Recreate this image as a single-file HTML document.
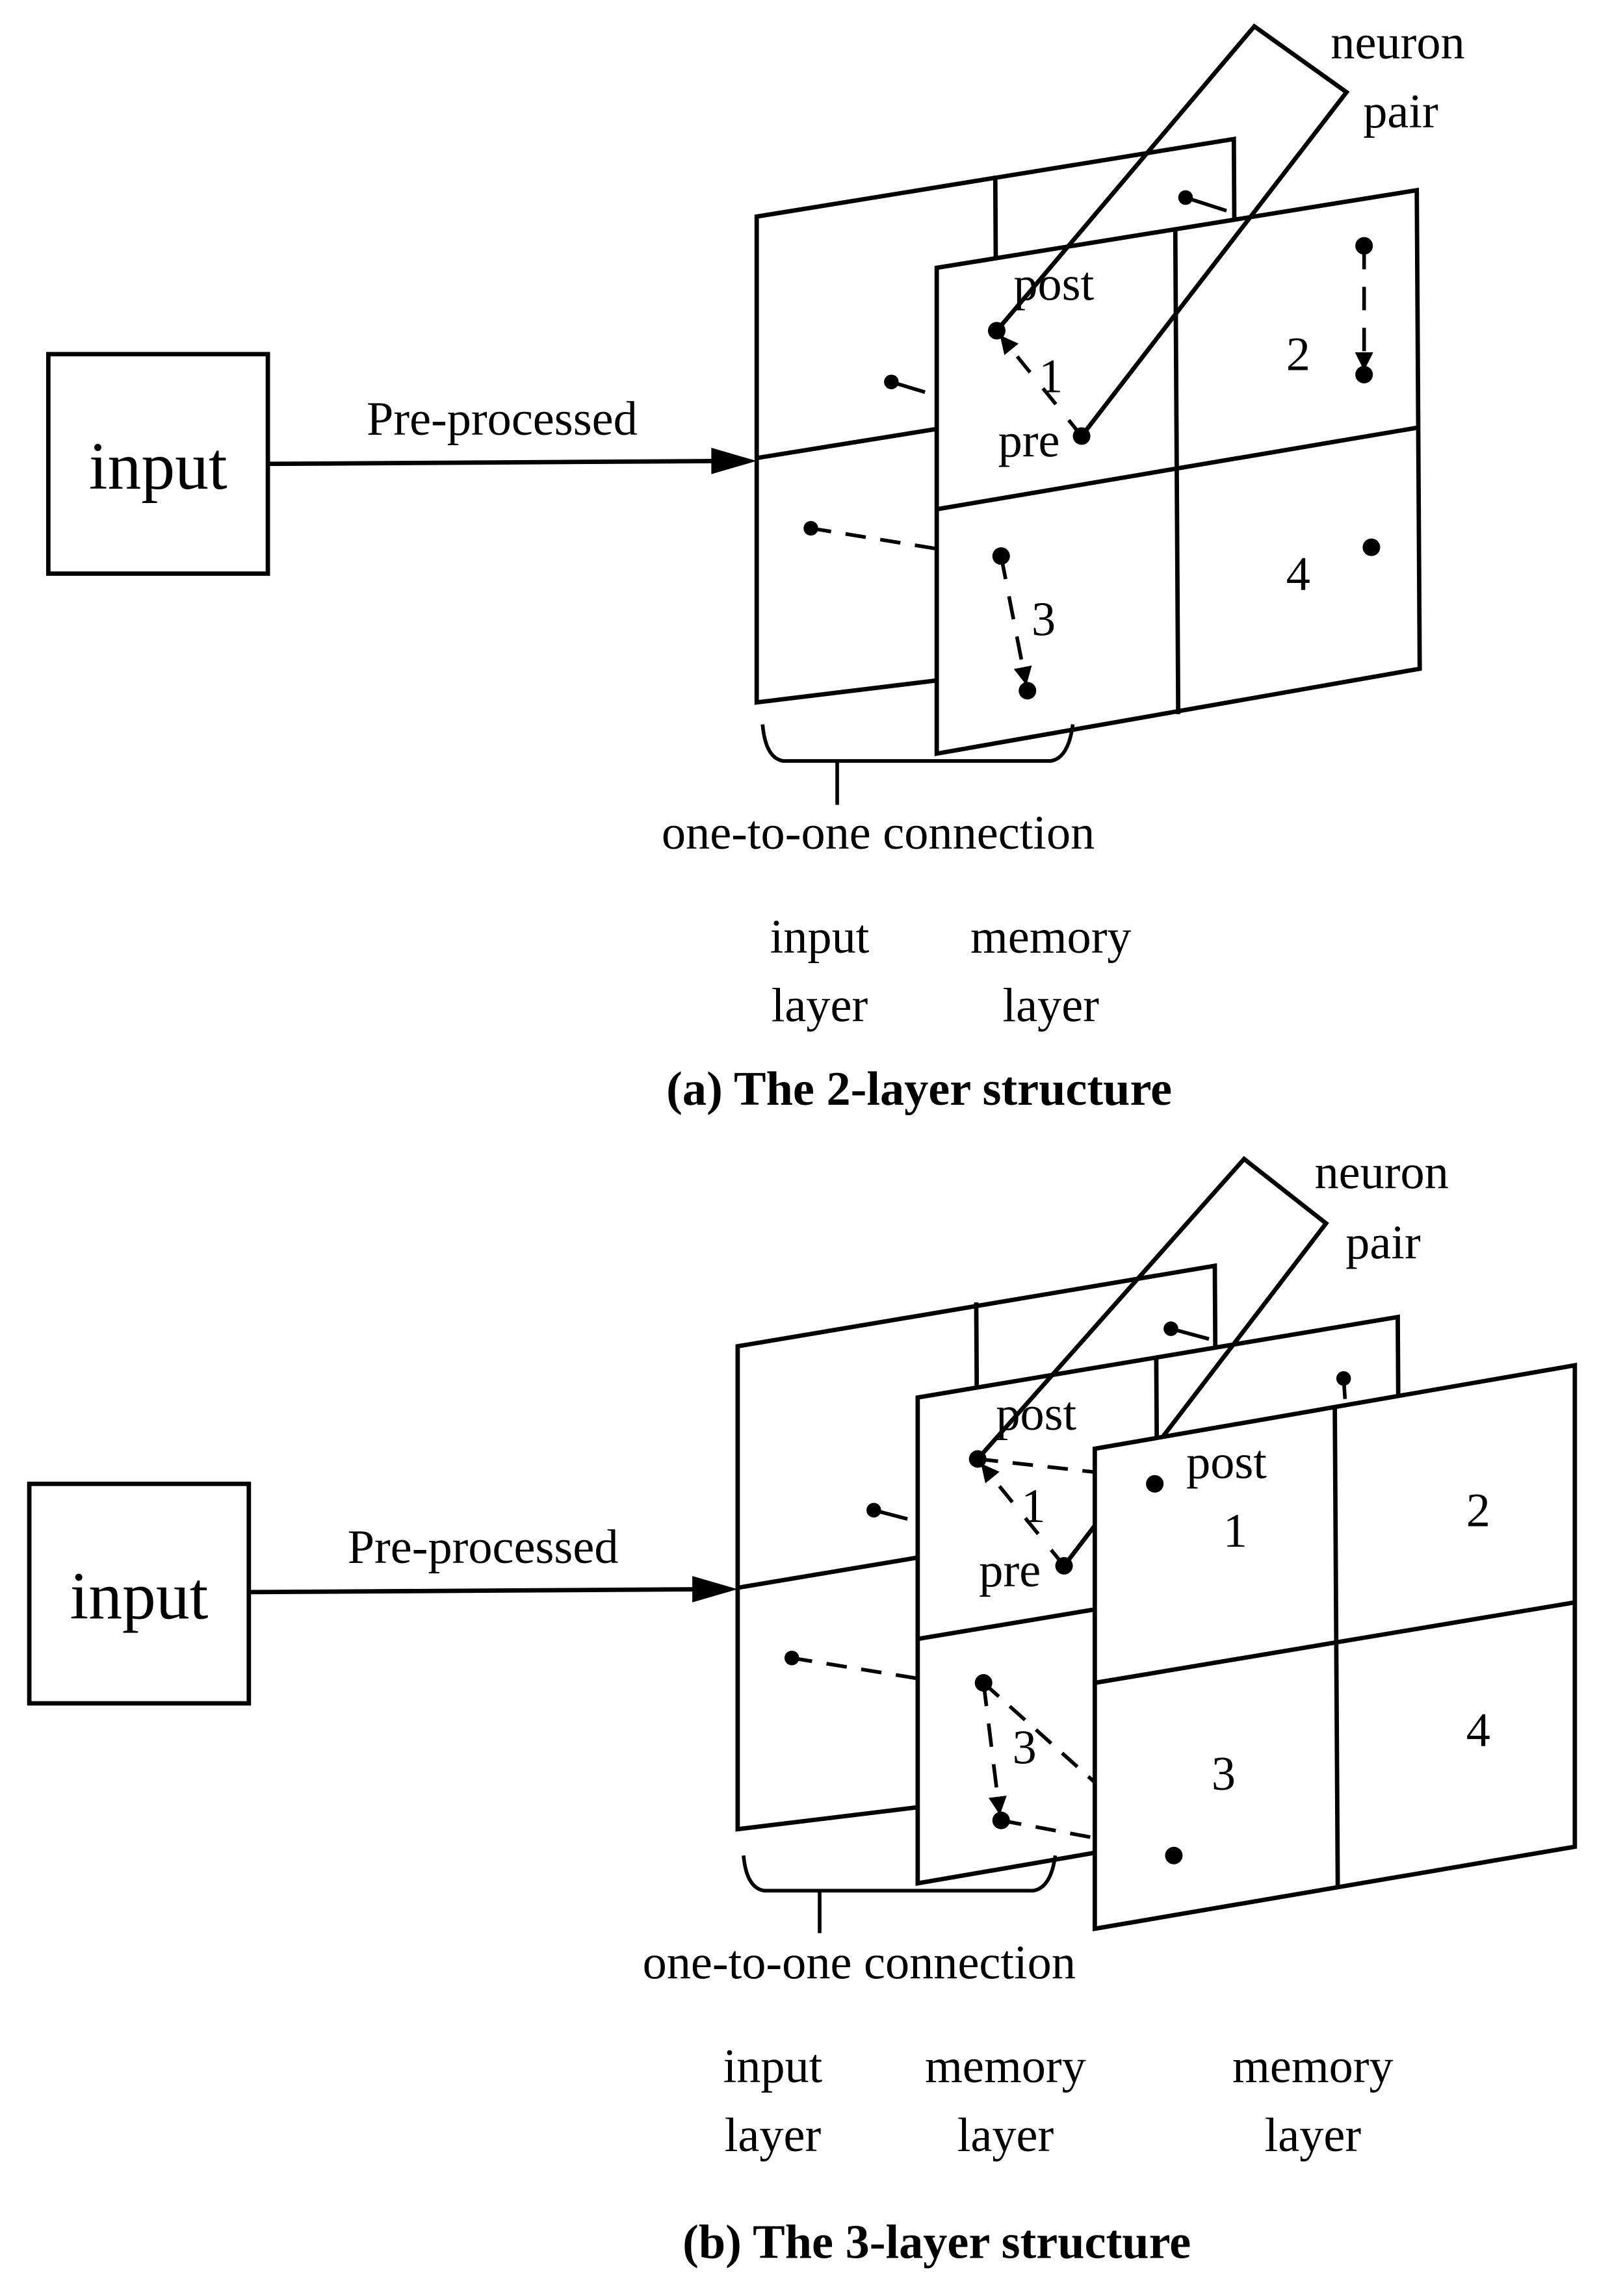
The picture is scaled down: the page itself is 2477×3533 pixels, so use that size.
<!DOCTYPE html>
<html><head><meta charset="utf-8"><style>
html,body{margin:0;padding:0;background:#fff;}
svg{display:block;}
text{font-family:"Liberation Serif",serif;fill:#000;}
</style></head><body>
<svg width="2477" height="3533" viewBox="0 0 1100 1569" xmlns="http://www.w3.org/2000/svg">
<defs>
<marker id="ah" viewBox="0 0 10 10" refX="9" refY="5" markerWidth="5" markerHeight="5" orient="auto"><path d="M0,0 L10,5 L0,10 z" fill="#000"/></marker>
<marker id="big" viewBox="0 0 10 10" refX="10" refY="5" markerWidth="8" markerHeight="6" orient="auto" markerUnits="userSpaceOnUse"><path d="M0,0 L10,5 L0,10 z" fill="#000"/></marker>
</defs>
<g stroke="#000" stroke-width="3" fill="none">

<!-- ===== (a) ===== -->
<rect x="33" y="242" width="150" height="150"/>
<line x1="183" y1="317" x2="500" y2="315"/>
<path d="M486,306 L517,315 L486,324 z" fill="#000" stroke="none"/>
<!-- input layer back -->
<polygon points="517,148 843,95 845,440 517,480" fill="#fff"/>
<line x1="517" y1="313" x2="845" y2="260"/>
<line x1="680" y1="120" x2="682" y2="455"/>
<circle cx="810" cy="135" r="5" fill="#000" stroke="none"/><line x1="810" y1="135" x2="838" y2="144" stroke-width="2.5"/>
<circle cx="609" cy="261" r="5" fill="#000" stroke="none"/><line x1="609" y1="261" x2="632" y2="268" stroke-width="2.5"/>
<circle cx="554" cy="361" r="5" fill="#000" stroke="none"/><line x1="554" y1="361" x2="640" y2="375" stroke-width="2.5" stroke-dasharray="14,10"/>
<!-- memory layer front -->
<polygon points="640,183 968,130 970,457 640,515" fill="#fff"/>
<line x1="640" y1="348" x2="970" y2="292"/>
<line x1="803" y1="157" x2="805" y2="488"/>
<!-- neuron pair loop -->
<polyline points="681,226 857,18 920,63 739,298"/>
<circle cx="681" cy="226" r="6" fill="#000" stroke="none"/>
<circle cx="739" cy="298" r="6" fill="#000" stroke="none"/>
<line x1="739" y1="298" x2="684" y2="230" stroke-width="2.5" stroke-dasharray="14,14" marker-end="url(#ah)"/>
<circle cx="932" cy="168" r="6" fill="#000" stroke="none"/><circle cx="932" cy="256" r="6" fill="#000" stroke="none"/>
<line x1="932" y1="168" x2="932" y2="252" stroke-width="2.5" stroke-dasharray="16,12" marker-end="url(#ah)"/>
<circle cx="684" cy="380" r="6" fill="#000" stroke="none"/><circle cx="702" cy="472" r="6" fill="#000" stroke="none"/>
<line x1="684" y1="380" x2="701" y2="467" stroke-width="2.5" stroke-dasharray="16,12" marker-end="url(#ah)"/>
<circle cx="937" cy="374" r="6" fill="#000" stroke="none"/>
<!-- brace -->
<path d="M521,495 Q523,518 535,520 L718,520 Q730,518 733,495" stroke-width="2.5"/>
<line x1="572" y1="521" x2="572" y2="550" stroke-width="2.5"/>

<!-- ===== (b) ===== -->
<rect x="20" y="1014" width="150" height="150"/>
<line x1="170" y1="1088" x2="488" y2="1086"/>
<path d="M473,1077 L504,1086 L473,1095 z" fill="#000" stroke="none"/>
<polygon points="504,920 830,865 832,1210 504,1250" fill="#fff"/>
<line x1="504" y1="1085" x2="832" y2="1030"/>
<line x1="667" y1="890" x2="669" y2="1225"/>
<circle cx="800" cy="908" r="5" fill="#000" stroke="none"/><line x1="800" y1="908" x2="826" y2="915" stroke-width="2.5"/>
<circle cx="597" cy="1032" r="5" fill="#000" stroke="none"/><line x1="597" y1="1032" x2="620" y2="1038" stroke-width="2.5"/>
<circle cx="541" cy="1133" r="5" fill="#000" stroke="none"/><line x1="541" y1="1133" x2="627" y2="1147" stroke-width="2.5" stroke-dasharray="14,10"/>
<!-- memory 1 -->
<polygon points="627,955 955,900 957,1230 627,1287" fill="#fff"/>
<line x1="627" y1="1120" x2="957" y2="1065"/>
<line x1="790" y1="928" x2="792" y2="1260"/>
<circle cx="918" cy="942" r="5" fill="#000" stroke="none"/><line x1="918" y1="942" x2="919" y2="956" stroke-width="2.5"/>
<polyline points="668,997 850,792 906,836 727,1070"/>
<circle cx="668" cy="997" r="6" fill="#000" stroke="none"/>
<circle cx="727" cy="1070" r="6" fill="#000" stroke="none"/>
<line x1="727" y1="1070" x2="671" y2="1001" stroke-width="2.5" stroke-dasharray="14,14" marker-end="url(#ah)"/>
<line x1="668" y1="997" x2="748" y2="1006" stroke-width="2.5" stroke-dasharray="14,10"/>
<circle cx="672" cy="1150" r="6" fill="#000" stroke="none"/><circle cx="684" cy="1244" r="6" fill="#000" stroke="none"/>
<line x1="672" y1="1150" x2="683" y2="1239" stroke-width="2.5" stroke-dasharray="16,12" marker-end="url(#ah)"/>
<line x1="672" y1="1150" x2="748" y2="1218" stroke-width="2.5" stroke-dasharray="14,10"/>
<line x1="684" y1="1244" x2="748" y2="1256" stroke-width="2.5" stroke-dasharray="14,10"/>
<!-- memory 2 front -->
<polygon points="748,990 1076,933 1076,1262 748,1318" fill="#fff"/>
<line x1="748" y1="1150" x2="1076" y2="1095"/>
<line x1="912" y1="962" x2="914" y2="1290"/>
<circle cx="789" cy="1014" r="6" fill="#000" stroke="none"/>
<circle cx="802" cy="1268" r="6" fill="#000" stroke="none"/>
<path d="M508,1268 Q510,1290 522,1292 L706,1292 Q718,1290 721,1268" stroke-width="2.5"/>
<line x1="560" y1="1293" x2="560" y2="1321" stroke-width="2.5"/>
</g>

<g font-size="33">
<text x="108" y="334" font-size="46" text-anchor="middle">input</text>
<text x="343" y="297" text-anchor="middle">Pre-processed</text>
<text x="720" y="205" text-anchor="middle">post</text>
<text x="718" y="268" text-anchor="middle">1</text>
<text x="703" y="312" text-anchor="middle">pre</text>
<text x="887" y="253" text-anchor="middle">2</text>
<text x="713" y="434" text-anchor="middle">3</text>
<text x="887" y="403" text-anchor="middle">4</text>
<text x="955" y="40" text-anchor="middle">neuron</text>
<text x="957" y="87" text-anchor="middle">pair</text>
<text x="600" y="580" text-anchor="middle">one-to-one connection</text>
<text x="560" y="651" text-anchor="middle">input</text>
<text x="560" y="698" text-anchor="middle">layer</text>
<text x="718" y="651" text-anchor="middle">memory</text>
<text x="718" y="698" text-anchor="middle">layer</text>
<text x="628" y="755" text-anchor="middle" font-weight="bold">(a) The 2-layer structure</text>

<text x="95" y="1106" font-size="46" text-anchor="middle">input</text>
<text x="330" y="1068" text-anchor="middle">Pre-processed</text>
<text x="708" y="977" text-anchor="middle">post</text>
<text x="706" y="1040" text-anchor="middle">1</text>
<text x="690" y="1084" text-anchor="middle">pre</text>
<text x="700" y="1205" text-anchor="middle">3</text>
<text x="838" y="1010" text-anchor="middle">post</text>
<text x="844" y="1057" text-anchor="middle">1</text>
<text x="1010" y="1043" text-anchor="middle">2</text>
<text x="836" y="1223" text-anchor="middle">3</text>
<text x="1010" y="1193" text-anchor="middle">4</text>
<text x="944" y="812" text-anchor="middle">neuron</text>
<text x="945" y="860" text-anchor="middle">pair</text>
<text x="587" y="1352" text-anchor="middle">one-to-one connection</text>
<text x="528" y="1423" text-anchor="middle">input</text>
<text x="528" y="1470" text-anchor="middle">layer</text>
<text x="687" y="1423" text-anchor="middle">memory</text>
<text x="687" y="1470" text-anchor="middle">layer</text>
<text x="897" y="1423" text-anchor="middle">memory</text>
<text x="897" y="1470" text-anchor="middle">layer</text>
<text x="640" y="1543" text-anchor="middle" font-weight="bold">(b) The 3-layer structure</text>
</g>
</svg>
</body></html>
